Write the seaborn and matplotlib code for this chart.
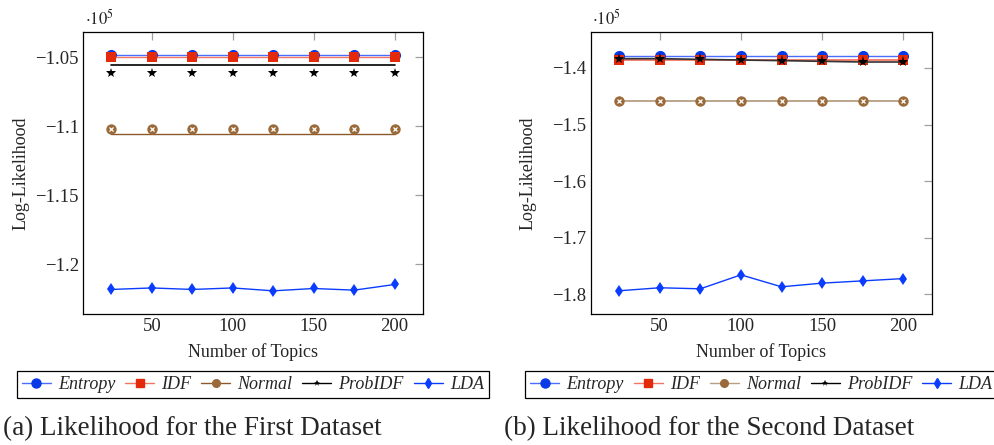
import matplotlib
matplotlib.use("Agg")
import matplotlib.pyplot as plt
from matplotlib.lines import Line2D
from matplotlib.ticker import FuncFormatter
import seaborn as sns

# x values (number of topics)
topics = [25, 50, 75, 100, 125, 150, 175, 200]
names = ["Entropy", "IDF", "Normal", "ProbIDF", "LDA"]

# first dataset, log-likelihood in units of 1e5
a_entropy = [-1.0483, -1.0483, -1.0483, -1.0483, -1.0483, -1.0483, -1.0483, -1.0483]
a_idf = [-1.0500, -1.0500, -1.0500, -1.0500, -1.0500, -1.0500, -1.0500, -1.0500]
a_normal_marks = [-1.1019, -1.1019, -1.1019, -1.1019, -1.1019, -1.1019, -1.1019, -1.1019]
a_normal_line = [-1.1058, -1.1058, -1.1058, -1.1058, -1.1058, -1.1058, -1.1058, -1.1058]
a_probidf_marks = [-1.0616, -1.0616, -1.0616, -1.0616, -1.0616, -1.0616, -1.0616, -1.0616]
a_probidf_line = [-1.0558, -1.0558, -1.0558, -1.0558, -1.0558, -1.0558, -1.0558, -1.0558]
a_lda = [-1.2183, -1.2172, -1.2183, -1.2172, -1.2193, -1.2176, -1.2188, -1.2147]

# second dataset
b_entropy = [-1.3782, -1.3782, -1.3782, -1.3782, -1.3782, -1.3782, -1.3782, -1.3782]
b_idf = [-1.3858, -1.3858, -1.3858, -1.3858, -1.3858, -1.3858, -1.3858, -1.3858]
b_normal = [-1.4585, -1.4585, -1.4585, -1.4585, -1.4585, -1.4585, -1.4585, -1.4585]
b_probidf = [-1.3836, -1.3836, -1.3848, -1.3860, -1.3871, -1.3883, -1.3895, -1.3895]
b_lda = [-1.7935, -1.7882, -1.7900, -1.7654, -1.7865, -1.7800, -1.7760, -1.7720]

a_yticks = [-1.05, -1.1, -1.15, -1.2]
b_yticks = [-1.4, -1.5, -1.6, -1.7, -1.8]
x_ticks = [50, 100, 150, 200]

sns.set_style("white")
plt.rcParams['font.family'] = ['Liberation Serif', 'DejaVu Serif']
plt.rcParams['mathtext.fontset'] = 'stix'

C_ENT, C_ENT_L = '#0a3ae8', '#4a6cff'
C_IDF, C_IDF_L = '#e32a0a', '#f27563'
C_NOR = '#9a6a3a'
C_PROB = '#000000'
C_LDA = '#0a3cff'


def line(ax, y, color, lw=1.0):
    sns.lineplot(x=topics, y=y, color=color, lw=lw, ax=ax)


def marks(ax, y, color, marker, ms, **kw):
    sns.lineplot(x=topics, y=y, color=color, linestyle='none', marker=marker,
                 markersize=ms, markeredgewidth=0, ax=ax, **kw)


def otimes(ax, y):
    marks(ax, y, C_NOR, 'o', 7.5)
    sns.lineplot(x=topics, y=y, color='#d8b48e', linestyle='none', marker='x',
                 markersize=3.2, markeredgewidth=0.9, ax=ax)


def style_axes(ax, yticks, ylim):
    ax.set_xlim(7.5, 217.5)
    ax.set_ylim(*ylim)
    ax.set_xticks(x_ticks)
    ax.set_yticks(yticks)
    ax.yaxis.set_major_formatter(FuncFormatter(lambda v, p: f"{v:g}".replace('-', '\u2212')))
    ax.tick_params(direction='in', length=6, width=0.9, color='#a0a0a0',
                   top=True, right=True, labelsize=13.5, pad=3)
    for s in ax.spines.values():
        s.set_color('black')
        s.set_linewidth(0.9)
    ax.set_xlabel('Number of Topics', fontsize=13)
    ax.set_ylabel('Log-Likelihood', fontsize=13)
    ax.xaxis.set_label_coords(0.5, -0.105)
    ax.yaxis.set_label_coords(-0.158, 0.5)
    ax.text(0.005, 1.012, r'$\cdot 10^5$', transform=ax.transAxes, fontsize=12,
            ha='left', va='bottom')


def handles(normal_line_color):
    return [
        Line2D([], [], color=C_ENT_L, lw=1, marker='o', ms=6.5, mfc=C_ENT, mec=C_ENT),
        Line2D([], [], color=C_IDF_L, lw=1, marker='s', ms=6, mfc=C_IDF, mec=C_IDF),
        Line2D([], [], color=normal_line_color, lw=1, marker='o', ms=5.5, mfc=C_NOR, mec=C_NOR),
        Line2D([], [], color=C_PROB, lw=1, marker='*', ms=5, mfc=C_PROB, mec=C_PROB, mew=0),
        Line2D([], [], color=C_LDA, lw=1, marker='d', ms=5, mfc=C_LDA, mec=C_LDA),
    ]


fig = plt.figure(figsize=(9.95, 4.45), dpi=100)
ax_a = fig.add_axes([0.0834, 0.2944, 0.3417, 0.6337])
ax_b = fig.add_axes([0.5937, 0.2944, 0.3427, 0.6337])

# panel (a)
line(ax_a, a_lda, C_LDA)
marks(ax_a, a_lda, C_LDA, 'd', 6.5)
line(ax_a, a_normal_line, '#8a5a2a')
otimes(ax_a, a_normal_marks)
line(ax_a, a_probidf_line, C_PROB, lw=1.2)
marks(ax_a, a_probidf_marks, C_PROB, '*', 7)
line(ax_a, a_entropy, C_ENT_L)
marks(ax_a, a_entropy, C_ENT, 'o', 8)
line(ax_a, a_idf, C_IDF_L)
marks(ax_a, a_idf, C_IDF, 's', 7.5)
style_axes(ax_a, a_yticks, (-1.2361, -1.0315))

# panel (b)
line(ax_b, b_lda, C_LDA)
marks(ax_b, b_lda, C_LDA, 'd', 6.5)
line(ax_b, b_normal, '#b89e84', lw=1.3)
otimes(ax_b, b_normal)
line(ax_b, b_entropy, C_ENT_L)
marks(ax_b, b_entropy, C_ENT, 'o', 8)
line(ax_b, b_idf, C_IDF_L, lw=1.3)
marks(ax_b, b_idf, C_IDF, 's', 7.5)
line(ax_b, b_probidf, '#333333', lw=1.2)
marks(ax_b, b_probidf, C_PROB, '*', 8)
style_axes(ax_b, b_yticks, (-1.8345, -1.3365))

for ax, ncol_color in ((ax_a, '#8a5a2a'), (ax_b, '#b89e84')):
    pos = ax.get_position()
    leg = fig.legend(handles(ncol_color), names, loc='center',
                     bbox_to_anchor=((pos.x0 + pos.x1) / 2, 0.136), ncol=5,
                     frameon=True, fancybox=False, framealpha=1, edgecolor='black',
                     prop={'style': 'italic', 'size': 13}, handlelength=1.6,
                     handletextpad=0.4, columnspacing=0.55, borderpad=0.3,
                     borderaxespad=0)
    leg.get_frame().set_linewidth(0.9)

fig.text(0.003, 0.036, '(a) Likelihood for the First Dataset', fontsize=19.5,
         ha='left', va='center')
fig.text(0.507, 0.036, '(b) Likelihood for the Second Dataset', fontsize=19.5,
         ha='left', va='center')

fig.savefig('out.png', dpi=100)
